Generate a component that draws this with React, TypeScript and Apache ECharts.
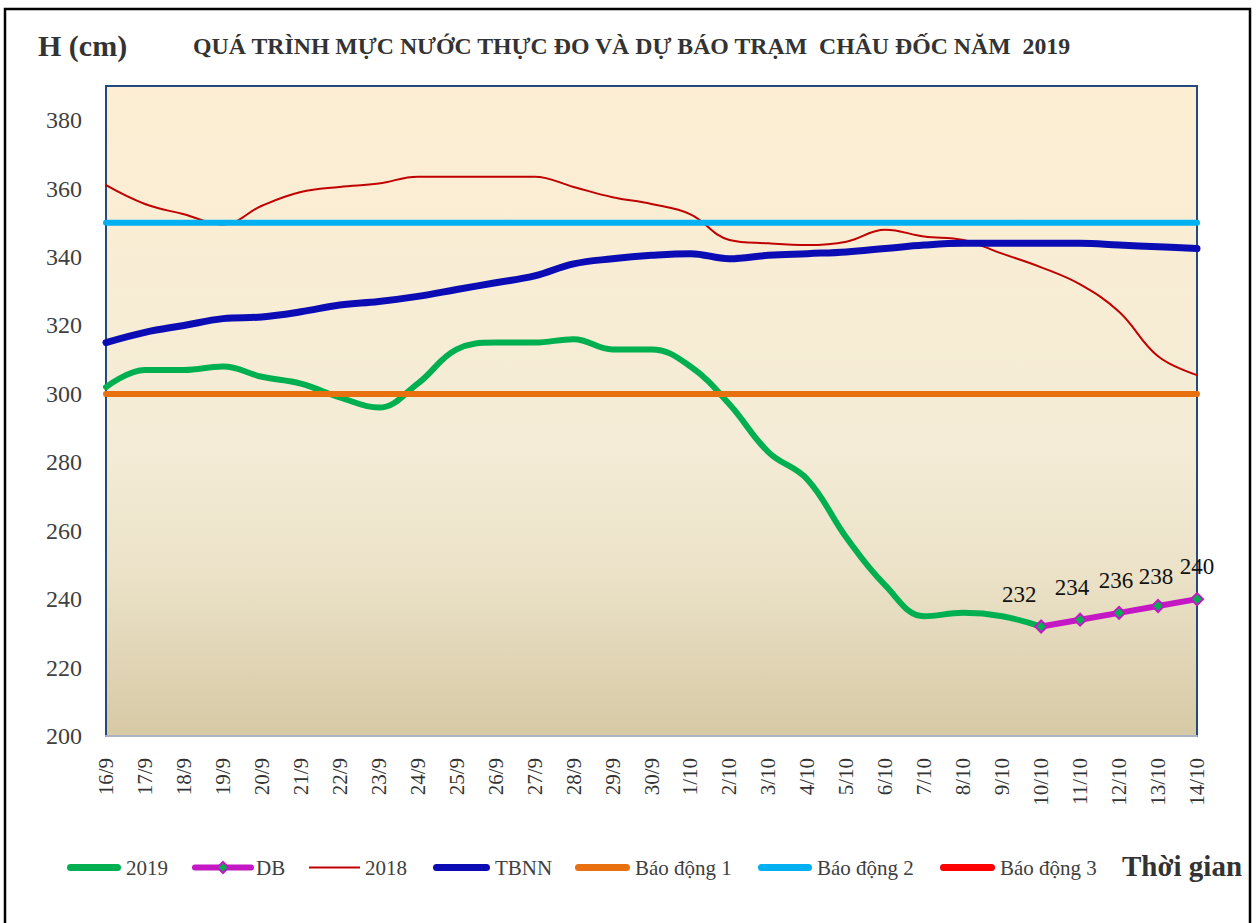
import React, { useEffect, useRef } from "react";
import * as echarts from "echarts";

const categories = [
  "16/9", "17/9", "18/9", "19/9", "20/9", "21/9", "22/9", "23/9", "24/9", "25/9",
  "26/9", "27/9", "28/9", "29/9", "30/9", "1/10", "2/10", "3/10", "4/10", "5/10",
  "6/10", "7/10", "8/10", "9/10", "10/10", "11/10", "12/10", "13/10", "14/10",
];

const data2019 = [
  302, 307, 307, 308, 305, 303, 299, 296, 303, 313,
  315, 315, 316, 313, 313, 308, 297, 283, 275, 258,
  244, 235, 236, 235, 232,
];

const dataDB = [
  null, null, null, null, null, null, null, null, null, null,
  null, null, null, null, null, null, null, null, null, null,
  null, null, null, null, 232, 234, 236, 238, 240,
];

const data2018 = [
  361, 355.5, 352.5, 349.5, 355, 359, 360.5, 361.5, 363.5, 363.5,
  363.5, 363.5, 360.5, 357.5, 355.5, 352.5, 345, 344, 343.5, 344.5,
  348, 346, 345, 341, 337, 332, 324, 311, 305.5,
];

const dataTBNN = [
  315, 318, 320, 322, 322.5, 324, 326, 327, 328.5, 330.5,
  332.5, 334.5, 338, 339.5, 340.5, 341, 339.5, 340.5, 341, 341.5,
  342.5, 343.5, 344, 344, 344, 344, 343.5, 343, 342.5,
];

const alarm1 = 300;
const alarm2 = 350;
const alarm3 = 400;

const yTicks = { min: 200, max: 390, interval: 20 };

const seriesNames = ["2019", "DB", "2018", "TBNN", "Báo động 1", "Báo động 2", "Báo động 3"];

const SERIF = '"Liberation Serif", "Times New Roman", serif';

// legend icon: a horizontal bar of thickness t inside a w x 14 box
function barIcon(w: number, t: number, round: boolean): string {
  const a = 7 - t / 2;
  const b = 7 + t / 2;
  const r = round ? t / 2 : 0;
  const body = round
    ? `M${r},${a} L${w - r},${a} Q${w},${a} ${w},7 Q${w},${b} ${w - r},${b} L${r},${b} Q0,${b} 0,7 Q0,${a} ${r},${a} Z`
    : `M0,${a} L${w},${a} L${w},${b} L0,${b} Z`;
  return `path://M0,0 Z M${w},14 Z ${body}`;
}

export default function App() {
  const ref = useRef<HTMLDivElement>(null);

  useEffect(() => {
    if (!ref.current) return;
    const chart = echarts.init(ref.current, undefined, { renderer: "svg" });

    const flat = (v: number) => categories.map(() => v);
    const dbLabelOffsets: Record<number, number[]> = {
      24: [-22, 0],
      25: [-8, 0],
      26: [-3, 0],
      27: [-2, 3],
      28: [0, 0],
    };
    const dbData = dataDB.map((v, i) =>
      v == null ? null : { value: v, label: { offset: dbLabelOffsets[i] || [0, 0] } }
    );

    const legendLayout = [
      { name: seriesNames[0], left: 67, w: 54, icon: barIcon(54, 7, true) },
      { name: seriesNames[1], left: 192, w: 56, icon: undefined },
      { name: seriesNames[2], left: 309, w: 51, icon: barIcon(51, 2, false) },
      { name: seriesNames[3], left: 433, w: 57, icon: barIcon(57, 7, true) },
      { name: seriesNames[4], left: 575, w: 55, icon: barIcon(55, 7, true) },
      { name: seriesNames[5], left: 758, w: 54, icon: barIcon(54, 7, true) },
      { name: seriesNames[6], left: 940, w: 55, icon: barIcon(55, 7, true) },
    ];

    const option: any = {
      animation: false,
      backgroundColor: "#ffffff",
      grid: {
        left: 106,
        right: 62,
        top: 86,
        bottom: 187,
        show: true,
        borderColor: "#23497d",
        borderWidth: 2,
        backgroundColor: {
          type: "linear",
          x: 0,
          y: 0,
          x2: 0,
          y2: 1,
          colorStops: [
            { offset: 0, color: "#fdeed3" },
            { offset: 0.55, color: "#f4ecd6" },
            { offset: 0.75, color: "#ebe2c8" },
            { offset: 1, color: "#d7c9a5" },
          ],
        },
      },
      legend: legendLayout.map((l) => ({
        data: [l.icon ? { name: l.name, icon: l.icon } : { name: l.name }],
        left: l.left,
        top: 857,
        padding: 0,
        itemWidth: l.w,
        itemHeight: 14,
        itemGap: 0,
        lineStyle: { width: 6, cap: "round" },
        itemStyle: { borderWidth: l.icon ? 0 : 2 },
        textStyle: { fontFamily: SERIF, fontSize: 21, color: "#404040" },
        selectedMode: false,
      })),
      xAxis: {
        type: "category",
        data: categories,
        boundaryGap: false,
        axisLine: { show: true, lineStyle: { color: "#aab4c6", width: 2 } },
        axisTick: { show: false },
        axisLabel: {
          rotate: 90,
          interval: 0,
          margin: 22,
          fontFamily: SERIF,
          fontSize: 21,
          color: "#333333",
        },
        splitLine: { show: false },
      },
      yAxis: {
        type: "value",
        min: yTicks.min,
        max: yTicks.max,
        interval: yTicks.interval,
        axisLine: { show: false },
        axisTick: { show: false },
        splitLine: { show: false },
        axisLabel: {
          margin: 24,
          fontFamily: SERIF,
          fontSize: 24,
          color: "#404040",
          showMaxLabel: false,
        },
      },
      graphic: [
        {
          type: "rect",
          shape: { x: 5, y: 9, width: 1245, height: 940 },
          style: { fill: "none", stroke: "#000000", lineWidth: 2.5 },
          silent: true,
        },
        {
          type: "text",
          x: 38,
          y: 45,
          style: {
            text: "H (cm)",
            fontFamily: SERIF,
            fontWeight: "bold",
            fontSize: 30,
            fill: "#333333",
            verticalAlign: "middle",
          },
        },
        {
          type: "text",
          x: 193,
          y: 46,
          style: {
            text: "QUÁ TRÌNH MỰC NƯỚC THỰC ĐO VÀ DỰ BÁO TRẠM  CHÂU ĐỐC NĂM  2019",
            fontFamily: SERIF,
            fontWeight: "bold",
            fontSize: 23.8,
            fill: "#333333",
            verticalAlign: "middle",
          },
        },
        {
          type: "text",
          x: 1122,
          y: 866,
          style: {
            text: "Thời gian",
            fontFamily: SERIF,
            fontWeight: "bold",
            fontSize: 29,
            fill: "#333333",
            verticalAlign: "middle",
          },
        },
      ],
      series: [
        {
          name: seriesNames[0],
          type: "line",
          data: data2019,
          smooth: 0.4,
          symbol: "none",
          lineStyle: { color: "#00b050", width: 6, cap: "round" },
          itemStyle: { color: "#00b050" },
        },
        {
          name: seriesNames[1],
          type: "line",
          data: dbData,
          symbol: "diamond",
          symbolSize: 12,
          showSymbol: true,
          lineStyle: { color: "#c418c4", width: 6, cap: "round" },
          itemStyle: { color: "#00b050", borderColor: "#c418c4", borderWidth: 2 },
          label: {
            show: true,
            position: "top",
            distance: 14,
            fontFamily: SERIF,
            fontSize: 23,
            color: "#111111",
          },
          z: 5,
        },
        {
          name: seriesNames[2],
          type: "line",
          data: data2018,
          smooth: 0.4,
          symbol: "none",
          lineStyle: { color: "#c00000", width: 2, cap: "round" },
          itemStyle: { color: "#c00000" },
        },
        {
          name: seriesNames[3],
          type: "line",
          data: dataTBNN,
          smooth: 0.4,
          symbol: "none",
          lineStyle: { color: "#0c0cb4", width: 7, cap: "round" },
          itemStyle: { color: "#0c0cb4" },
        },
        {
          name: seriesNames[4],
          type: "line",
          data: flat(alarm1),
          symbol: "none",
          lineStyle: { color: "#e8700e", width: 6, cap: "round" },
          itemStyle: { color: "#e8700e" },
        },
        {
          name: seriesNames[5],
          type: "line",
          data: flat(alarm2),
          symbol: "none",
          lineStyle: { color: "#00b0f0", width: 6, cap: "round" },
          itemStyle: { color: "#00b0f0" },
        },
        {
          name: seriesNames[6],
          type: "line",
          data: flat(alarm3),
          symbol: "none",
          clip: true,
          lineStyle: { color: "#ff0000", width: 6, cap: "round" },
          itemStyle: { color: "#ff0000" },
        },
      ],
    };

    chart.setOption(option);
    return () => chart.dispose();
  }, []);

  return (
    <div
      ref={ref}
      style={{ position: "absolute", left: 0, top: 0, width: 1259, height: 923 }}
    />
  );
}
